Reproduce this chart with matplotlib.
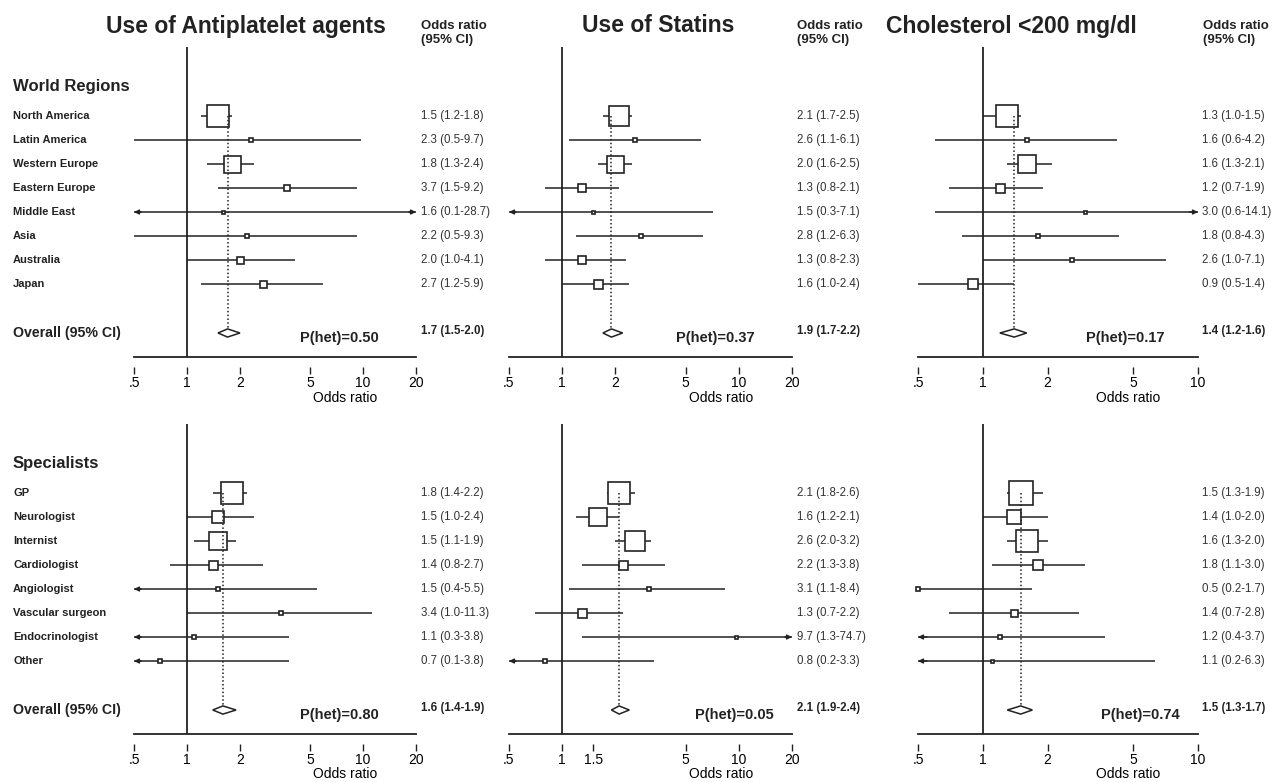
import matplotlib.pyplot as plt

plt.rcParams['font.family'] = ['Liberation Sans', 'DejaVu Sans']

W, H = 1275, 782

regions = ['North America', 'Latin America', 'Western Europe', 'Eastern Europe',
           'Middle East', 'Asia', 'Australia', 'Japan']
specialists = ['GP', 'Neurologist', 'Internist', 'Cardiologist', 'Angiologist',
               'Vascular surgeon', 'Endocrinologist', 'Other']

titles = ['Use of Antiplatelet agents', 'Use of Statins', 'Cholesterol <200 mg/dl']

# world regions
anti_reg_or = [1.5, 2.3, 1.8, 3.7, 1.6, 2.2, 2.0, 2.7]
anti_reg_lo = [1.2, 0.5, 1.3, 1.5, 0.1, 0.5, 1.0, 1.2]
anti_reg_hi = [1.8, 9.7, 2.4, 9.2, 28.7, 9.3, 4.1, 5.9]
anti_reg_w = [22, 4, 17, 6, 3, 4, 7, 7]
anti_reg_all = [1.7, 1.5, 2.0]
anti_reg_p = '0.50'

stat_reg_or = [2.1, 2.6, 2.0, 1.3, 1.5, 2.8, 1.3, 1.6]
stat_reg_lo = [1.7, 1.1, 1.6, 0.8, 0.3, 1.2, 0.8, 1.0]
stat_reg_hi = [2.5, 6.1, 2.5, 2.1, 7.1, 6.3, 2.3, 2.4]
stat_reg_w = [20, 5, 17, 8, 3, 5, 8, 9]
stat_reg_all = [1.9, 1.7, 2.2]
stat_reg_p = '0.37'

chol_reg_or = [1.3, 1.6, 1.6, 1.2, 3.0, 1.8, 2.6, 0.9]
chol_reg_lo = [1.0, 0.6, 1.3, 0.7, 0.6, 0.8, 1.0, 0.5]
chol_reg_hi = [1.5, 4.2, 2.1, 1.9, 14.1, 4.3, 7.1, 1.4]
chol_reg_w = [23, 5, 18, 9, 3, 5, 5, 10]
chol_reg_all = [1.4, 1.2, 1.6]
chol_reg_p = '0.17'

# specialists
anti_spe_or = [1.8, 1.5, 1.5, 1.4, 1.5, 3.4, 1.1, 0.7]
anti_spe_lo = [1.4, 1.0, 1.1, 0.8, 0.4, 1.0, 0.3, 0.1]
anti_spe_hi = [2.2, 2.4, 1.9, 2.7, 5.5, 11.3, 3.8, 3.8]
anti_spe_w = [22, 12, 18, 9, 5, 5, 5, 4]
anti_spe_all = [1.6, 1.4, 1.9]
anti_spe_p = '0.80'

stat_spe_or = [2.1, 1.6, 2.6, 2.2, 3.1, 1.3, 9.7, 0.8]
stat_spe_lo = [1.8, 1.2, 2.0, 1.3, 1.1, 0.7, 1.3, 0.2]
stat_spe_hi = [2.6, 2.1, 3.2, 3.8, 8.4, 2.2, 74.7, 3.3]
stat_spe_w = [23, 18, 20, 9, 5, 9, 3, 4]
stat_spe_all = [2.1, 1.9, 2.4]
stat_spe_p = '0.05'

chol_spe_or = [1.5, 1.4, 1.6, 1.8, 0.5, 1.4, 1.2, 1.1]
chol_spe_lo = [1.3, 1.0, 1.3, 1.1, 0.2, 0.7, 0.4, 0.2]
chol_spe_hi = [1.9, 2.0, 2.0, 3.0, 1.7, 2.8, 3.7, 6.3]
chol_spe_w = [24, 14, 22, 10, 5, 7, 4, 3]
chol_spe_all = [1.5, 1.3, 1.7]
chol_spe_p = '0.74'

ticks_a = [0.5, 1, 2, 5, 10, 20]
ticks_s = [0.5, 1, 1.5, 5, 10, 20]
ticks_c = [0.5, 1, 2, 5, 10]

INK = '#222222'


def fmt(e, l, h):
    return f'{e:.1f} ({l:.1f}-{h:.1f})'


def draw_panel(fig, left, right, top, bottom, xmin, xmax, ticks,
               est, lo, hi, wt, overall, p, px, valx, labels=None, header=None, xl_y=-0.131):
    ax = fig.add_axes([left / W, 1 - bottom / H, (right - left) / W, (bottom - top) / H])
    ax.set_xscale('log')
    ax.set_xlim(xmin, xmax)
    ax.set_ylim(10.04, -2.875)
    for s in ['left', 'right', 'top']:
        ax.spines[s].set_visible(False)
    ax.spines['bottom'].set_position(('outward', 7.5))
    ax.spines['bottom'].set_visible(False)
    ax.set_yticks([])
    ax.minorticks_off()
    ax.set_xticks(ticks)
    ax.set_xticklabels([('%g' % t).lstrip('0') for t in ticks])
    ax.tick_params(axis='x', length=5, width=1, pad=1.5, labelsize=10, color=INK)
    ax.plot([0, 1], [0, 0], transform=ax.transAxes, color=INK, lw=1.3, clip_on=False)
    ax.axvline(1, color=INK, lw=1.3, zorder=1)
    ax.text(0.75, xl_y, 'Odds ratio', transform=ax.transAxes, ha='center', va='center',
            fontsize=10)

    for i in range(len(est)):
        a = max(lo[i], xmin)
        b = min(hi[i], xmax)
        ax.plot([a, b], [i, i], color=INK, lw=1.1, zorder=2, solid_capstyle='butt')
        if lo[i] < xmin and est[i] > xmin * 1.05:
            ax.annotate('', xy=(xmin, i), xytext=(xmin * 1.1, i),
                        arrowprops=dict(arrowstyle='-|>', color=INK, lw=1, mutation_scale=7,
                                        shrinkA=0, shrinkB=0), annotation_clip=False)
        if hi[i] > xmax:
            ax.annotate('', xy=(xmax, i), xytext=(xmax / 1.1, i),
                        arrowprops=dict(arrowstyle='-|>', color=INK, lw=1, mutation_scale=7,
                                        shrinkA=0, shrinkB=0), annotation_clip=False)
        ax.plot([est[i]], [i], marker='s', markersize=wt[i] * 0.72, mfc='white', mec=INK,
                mew=1.2, zorder=3, clip_on=False)
        ax.annotate(fmt(est[i], lo[i], hi[i]), xy=(valx / W, i),
                    xycoords=('figure fraction', 'data'), ha='left', va='center',
                    fontsize=8.3, color='#333333')
        if labels is not None:
            ax.annotate(labels[i], xy=(13 / W, i), xycoords=('figure fraction', 'data'),
                        ha='left', va='center', fontsize=8, fontweight='bold', color=INK)

    e, l, h = overall
    yo = 9.04
    dh = 0.17
    ax.plot([e, e], [0, yo - dh], color=INK, lw=1.1, ls=(0, (1, 1.5)), zorder=4)
    ax.fill([l, e, h, e], [yo, yo - dh, yo, yo + dh], facecolor='white', edgecolor=INK,
            lw=1.1, zorder=3)
    ax.annotate(fmt(e, l, h), xy=(valx / W, yo - 0.1), xycoords=('figure fraction', 'data'),
                ha='left', va='center', fontsize=8.3, fontweight='bold', color=INK)
    ax.annotate('P(het)=' + p, xy=(px / W, yo + 0.2), xycoords=('figure fraction', 'data'),
                ha='left', va='center', fontsize=10.5, fontweight='bold', color=INK)
    if labels is not None:
        ax.annotate(header, xy=(13 / W, -1.25), xycoords=('figure fraction', 'data'),
                    ha='left', va='center', fontsize=12, fontweight='bold', color=INK)
        ax.annotate('Overall (95% CI)', xy=(13 / W, yo), xycoords=('figure fraction', 'data'),
                    ha='left', va='center', fontsize=10.2, fontweight='bold', color=INK)
    return ax


fig = plt.figure(figsize=(W / 100, H / 100), dpi=100)

# top row: world regions
draw_panel(fig, 134, 416, 47, 357, 0.5, 20, ticks_a, anti_reg_or, anti_reg_lo, anti_reg_hi,
           anti_reg_w, anti_reg_all, anti_reg_p, 300, 421, regions, 'World Regions')
draw_panel(fig, 509, 792, 47, 357, 0.5, 20, ticks_a, stat_reg_or, stat_reg_lo, stat_reg_hi,
           stat_reg_w, stat_reg_all, stat_reg_p, 676, 797)
draw_panel(fig, 918, 1198, 47, 357, 0.5, 10, ticks_c, chol_reg_or, chol_reg_lo, chol_reg_hi,
           chol_reg_w, chol_reg_all, chol_reg_p, 1086, 1202)

# bottom row: specialists
draw_panel(fig, 134, 416, 424, 734, 0.5, 20, ticks_a, anti_spe_or, anti_spe_lo, anti_spe_hi,
           anti_spe_w, anti_spe_all, anti_spe_p, 300, 421, specialists, 'Specialists', xl_y=-0.128)
draw_panel(fig, 509, 792, 424, 734, 0.5, 20, ticks_s, stat_spe_or, stat_spe_lo, stat_spe_hi,
           stat_spe_w, stat_spe_all, stat_spe_p, 695, 797, xl_y=-0.128)
draw_panel(fig, 918, 1198, 424, 734, 0.5, 10, ticks_c, chol_spe_or, chol_spe_lo, chol_spe_hi,
           chol_spe_w, chol_spe_all, chol_spe_p, 1101, 1202, xl_y=-0.128)

# titles and column headers
for t, cx in zip(titles, [246, 658, 1011]):
    fig.text(cx / W, 1 - 26 / H, t, ha='center', va='center', fontsize=16.5,
             fontweight='bold', color=INK)
for hx in [421, 797, 1203]:
    fig.text(hx / W, 1 - 33 / H, 'Odds ratio\n(95% CI)', ha='left', va='center',
             fontsize=9.5, fontweight='bold', color=INK, linespacing=1.2)

fig.savefig('out.png', dpi=100)
